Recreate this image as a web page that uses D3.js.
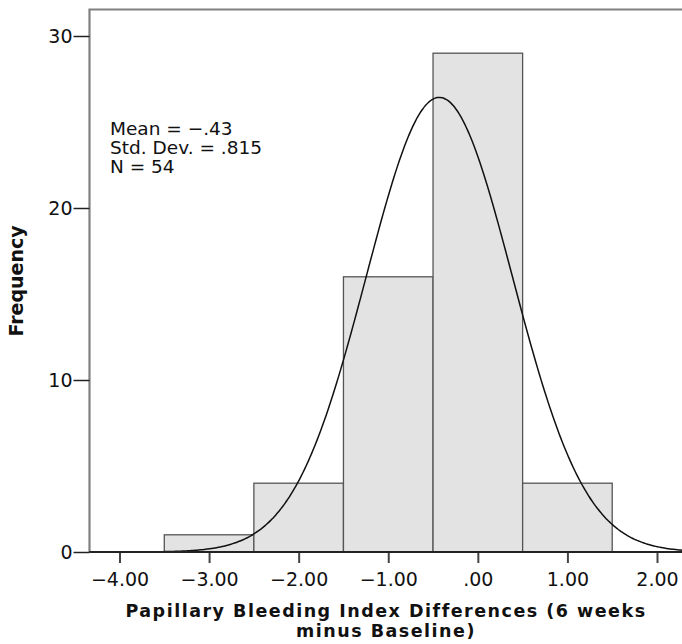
<!DOCTYPE html>
<meta charset="utf-8">
<script src="https://d3js.org/d3.v7.min.js"></script>
<style>
  body { margin: 0; background: #fff; }
  text { font-family: "DejaVu Sans", sans-serif; }
</style>
<div id="chart"></div>
<script>

// histogram bins (bin width 1.0)
var binStarts = [-3.5, -2.5, -1.5, -0.5, 0.5];
var binEnds   = [-2.5, -1.5, -0.5,  0.5, 1.5];
var counts    = [1, 4, 16, 29, 4];

var xTicks = [-4, -3, -2, -1, 0, 1, 2];
var xTickLabels = ["\u22124.00", "\u22123.00", "\u22122.00", "\u22121.00", ".00", "1.00", "2.00"];
var yTicks = [0, 10, 20, 30];

var mean = -0.43, sd = 0.815, n = 54;
var statsLines = ["Mean = \u2212.43", "Std. Dev. = .815", "N = 54"];

var W = 682, H = 644;
var svg = d3.select("#chart").append("svg")
    .attr("width", W)
    .attr("height", H);

var plotLeft = 89.5, plotTop = 9.5, plotBottom = 552;

var x = d3.scaleLinear().domain([-4, 2]).range([119.5, 657]);
var y = d3.scaleLinear().domain([0, 30]).range([plotBottom, 36]);

// plot frame (left and top)
svg.append("path")
    .attr("d", "M" + plotLeft + "," + plotBottom + "V" + plotTop + "H" + (W + 10))
    .attr("fill", "none")
    .attr("stroke", "#808080")
    .attr("stroke-width", 2.2);

// bars
svg.append("g")
  .selectAll("rect")
  .data(counts)
  .enter()
  .append("rect")
    .attr("x", function(d, i) { return x(binStarts[i]); })
    .attr("width", function(d, i) { return x(binEnds[i]) - x(binStarts[i]); })
    .attr("y", function(d) { return y(d); })
    .attr("height", function(d) { return y(0) - y(d); })
    .attr("fill", "#e3e3e3")
    .attr("stroke", "#555")
    .attr("stroke-width", 1.3);

// normal curve
var pts = d3.range(x.invert(plotLeft), x.invert(W) + 0.01, 0.02);
var line = d3.line()
    .x(function(d) { return x(d); })
    .y(function(d) {
      var z = (d - mean) / sd;
      return y(n * 1.0 / (sd * Math.sqrt(2 * Math.PI)) * Math.exp(-0.5 * z * z));
    })
    .curve(d3.curveBasis);
svg.append("path")
    .datum(pts)
    .attr("d", line)
    .attr("fill", "none")
    .attr("stroke", "#111")
    .attr("stroke-width", 1.5);

// x axis
var xAxis = svg.append("g")
    .attr("transform", "translate(0," + plotBottom + ")")
    .call(d3.axisBottom(x).tickValues(xTicks).tickSize(11).tickPadding(10)
      .tickFormat(function(d, i) { return xTickLabels[i]; }));
xAxis.select(".domain").remove();
xAxis.append("line")
    .attr("x1", plotLeft).attr("x2", W + 10)
    .attr("stroke", "#222").attr("stroke-width", 2);
xAxis.selectAll(".tick line").attr("stroke", "#444").attr("stroke-width", 2);
xAxis.selectAll("text").attr("font-size", 19).attr("fill", "#111")
    .style("font-family", "DejaVu Sans");

// y axis
var yAxis = svg.append("g")
    .attr("transform", "translate(" + plotLeft + ",0)")
    .call(d3.axisLeft(y).tickValues(yTicks).tickSize(16).tickPadding(1));
yAxis.select(".domain").remove();
yAxis.selectAll(".tick line").attr("stroke", "#222").attr("stroke-width", 1.5);
yAxis.selectAll("text").attr("font-size", 19).attr("fill", "#111")
    .style("font-family", "DejaVu Sans");

// axis titles
svg.append("text")
    .attr("transform", "translate(23,281) rotate(-90)")
    .attr("text-anchor", "middle")
    .attr("font-size", 19)
    .attr("font-weight", "bold")
    .attr("fill", "#111")
    .text("Frequency");

svg.append("text")
    .attr("x", 386).attr("y", 617)
    .attr("text-anchor", "middle")
    .attr("font-size", 17.5)
    .attr("font-weight", "bold")
    .attr("letter-spacing", 1.5)
    .attr("fill", "#111")
    .text("Papillary Bleeding Index Differences (6 weeks");
svg.append("text")
    .attr("x", 386).attr("y", 637)
    .attr("text-anchor", "middle")
    .attr("font-size", 17.5)
    .attr("font-weight", "bold")
    .attr("letter-spacing", 1.5)
    .attr("fill", "#111")
    .text("minus Baseline)");

// stats box
svg.append("g")
  .selectAll("text")
  .data(statsLines)
  .enter()
  .append("text")
    .attr("x", 110)
    .attr("y", function(d, i) { return 135 + i * 19; })
    .attr("font-size", 18.5)
    .attr("fill", "#111")
    .text(function(d) { return d; });

</script>
